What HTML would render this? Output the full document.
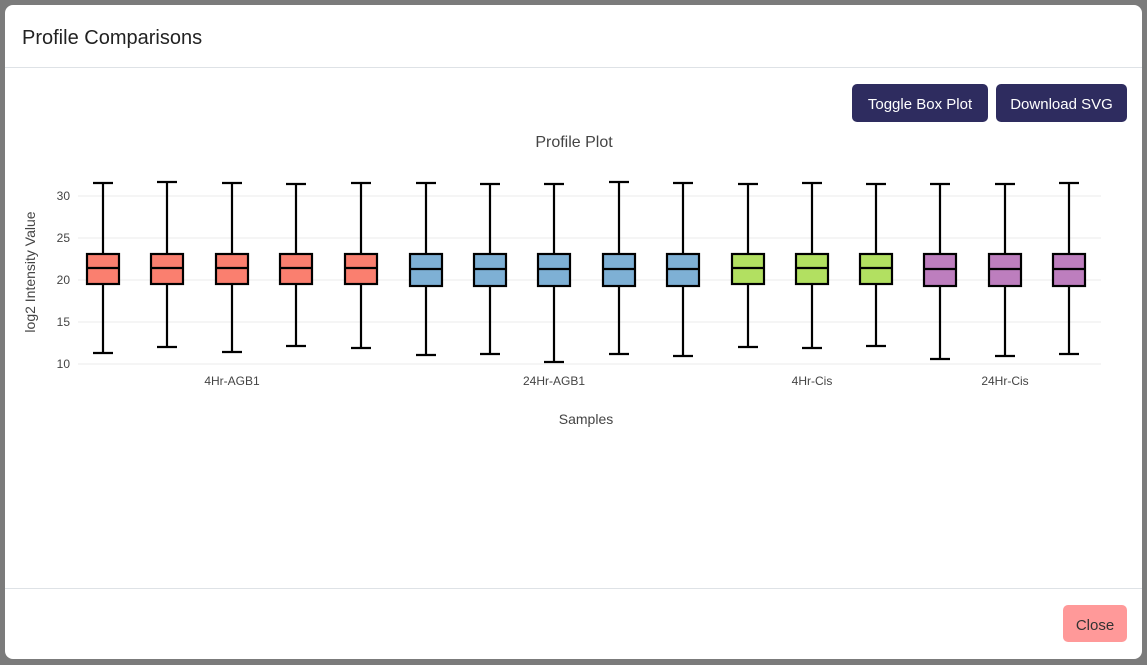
<!DOCTYPE html>
<html><head><meta charset="utf-8"><style>
body{margin:0;width:1147px;height:665px;background:#7b7b7b;font-family:"Liberation Sans",sans-serif;overflow:hidden;position:relative}
.modal{position:absolute;left:5px;top:5px;width:1137px;height:654px;background:#fff;border-radius:8px}
.title{position:absolute;left:17px;top:22px;font-size:20px;color:#222}
.hl{position:absolute;left:0;right:0;height:1px;background:#dee2e6}
.btn{position:absolute;top:79px;height:38px;background:#2e2c5f;color:#fff;border-radius:5px;font-size:15px;line-height:42px;text-align:center}
.close{position:absolute;left:1058px;top:600px;width:64px;height:37px;background:#f99;border-radius:5px;color:#333;font-size:15px;line-height:41px;text-align:center}
svg{position:absolute;left:0;top:0}
</style></head><body>
<div class="modal">
<div class="title">Profile Comparisons</div>
<div class="hl" style="top:62px"></div>
<div class="btn" style="left:847px;width:136px">Toggle Box Plot</div>
<div class="btn" style="left:991px;width:131px">Download SVG</div>
<div class="hl" style="top:583px"></div>
<div class="close">Close</div>
</div>
<svg width="1147" height="665" font-family="Liberation Sans, sans-serif">
<g stroke="#ebebeb" stroke-width="1">
<line x1="78" x2="1101" y1="196" y2="196"/><line x1="78" x2="1101" y1="238" y2="238"/><line x1="78" x2="1101" y1="280" y2="280"/><line x1="78" x2="1101" y1="322" y2="322"/><line x1="78" x2="1101" y1="364" y2="364"/>
</g>
<g font-size="12" fill="#444" text-anchor="end">
<text x="70" y="200">30</text><text x="70" y="242">25</text><text x="70" y="284">20</text><text x="70" y="326">15</text><text x="70" y="368">10</text>
</g>
<text x="574" y="147" font-size="16" fill="#444" text-anchor="middle">Profile Plot</text>
<text x="586" y="424" font-size="14" fill="#444" text-anchor="middle">Samples</text>
<text transform="translate(35,272) rotate(-90)" font-size="14" fill="#444" text-anchor="middle">log2 Intensity Value</text>
<g font-size="12" fill="#444" text-anchor="middle">
<text x="232" y="385">4Hr-AGB1</text><text x="554" y="385">24Hr-AGB1</text><text x="812" y="385">4Hr-Cis</text><text x="1005" y="385">24Hr-Cis</text>
</g>
<g stroke="#000" stroke-width="2.2">
<line x1="103" x2="103" y1="183" y2="353"/><line x1="93" x2="113" y1="183" y2="183"/><line x1="93" x2="113" y1="353" y2="353"/>
<line x1="167" x2="167" y1="182" y2="347"/><line x1="157" x2="177" y1="182" y2="182"/><line x1="157" x2="177" y1="347" y2="347"/>
<line x1="232" x2="232" y1="183" y2="352"/><line x1="222" x2="242" y1="183" y2="183"/><line x1="222" x2="242" y1="352" y2="352"/>
<line x1="296" x2="296" y1="184" y2="346"/><line x1="286" x2="306" y1="184" y2="184"/><line x1="286" x2="306" y1="346" y2="346"/>
<line x1="361" x2="361" y1="183" y2="348"/><line x1="351" x2="371" y1="183" y2="183"/><line x1="351" x2="371" y1="348" y2="348"/>
<line x1="426" x2="426" y1="183" y2="355"/><line x1="416" x2="436" y1="183" y2="183"/><line x1="416" x2="436" y1="355" y2="355"/>
<line x1="490" x2="490" y1="184" y2="354"/><line x1="480" x2="500" y1="184" y2="184"/><line x1="480" x2="500" y1="354" y2="354"/>
<line x1="554" x2="554" y1="184" y2="362"/><line x1="544" x2="564" y1="184" y2="184"/><line x1="544" x2="564" y1="362" y2="362"/>
<line x1="619" x2="619" y1="182" y2="354"/><line x1="609" x2="629" y1="182" y2="182"/><line x1="609" x2="629" y1="354" y2="354"/>
<line x1="683" x2="683" y1="183" y2="356"/><line x1="673" x2="693" y1="183" y2="183"/><line x1="673" x2="693" y1="356" y2="356"/>
<line x1="748" x2="748" y1="184" y2="347"/><line x1="738" x2="758" y1="184" y2="184"/><line x1="738" x2="758" y1="347" y2="347"/>
<line x1="812" x2="812" y1="183" y2="348"/><line x1="802" x2="822" y1="183" y2="183"/><line x1="802" x2="822" y1="348" y2="348"/>
<line x1="876" x2="876" y1="184" y2="346"/><line x1="866" x2="886" y1="184" y2="184"/><line x1="866" x2="886" y1="346" y2="346"/>
<line x1="940" x2="940" y1="184" y2="359"/><line x1="930" x2="950" y1="184" y2="184"/><line x1="930" x2="950" y1="359" y2="359"/>
<line x1="1005" x2="1005" y1="184" y2="356"/><line x1="995" x2="1015" y1="184" y2="184"/><line x1="995" x2="1015" y1="356" y2="356"/>
<line x1="1069" x2="1069" y1="183" y2="354"/><line x1="1059" x2="1079" y1="183" y2="183"/><line x1="1059" x2="1079" y1="354" y2="354"/>
</g>
<g stroke="#000" stroke-width="2.2">
<g fill="#fa7f6f">
<rect x="87" y="254" width="32" height="30"/><rect x="151" y="254" width="32" height="30"/><rect x="216" y="254" width="32" height="30"/><rect x="280" y="254" width="32" height="30"/><rect x="345" y="254" width="32" height="30"/>
</g>
<g fill="#7eb0d5">
<rect x="410" y="254" width="32" height="32"/><rect x="474" y="254" width="32" height="32"/><rect x="538" y="254" width="32" height="32"/><rect x="603" y="254" width="32" height="32"/><rect x="667" y="254" width="32" height="32"/>
</g>
<g fill="#b2e061">
<rect x="732" y="254" width="32" height="30"/><rect x="796" y="254" width="32" height="30"/><rect x="860" y="254" width="32" height="30"/>
</g>
<g fill="#bd7ebe">
<rect x="924" y="254" width="32" height="32"/><rect x="989" y="254" width="32" height="32"/><rect x="1053" y="254" width="32" height="32"/>
</g>
<g>
<line x1="87" x2="119" y1="268" y2="268"/><line x1="151" x2="183" y1="268" y2="268"/><line x1="216" x2="248" y1="268" y2="268"/><line x1="280" x2="312" y1="268" y2="268"/><line x1="345" x2="377" y1="268" y2="268"/>
<line x1="410" x2="442" y1="269" y2="269"/><line x1="474" x2="506" y1="269" y2="269"/><line x1="538" x2="570" y1="269" y2="269"/><line x1="603" x2="635" y1="269" y2="269"/><line x1="667" x2="699" y1="269" y2="269"/>
<line x1="732" x2="764" y1="268" y2="268"/><line x1="796" x2="828" y1="268" y2="268"/><line x1="860" x2="892" y1="268" y2="268"/>
<line x1="924" x2="956" y1="269" y2="269"/><line x1="989" x2="1021" y1="269" y2="269"/><line x1="1053" x2="1085" y1="269" y2="269"/>
</g>
</g>
</svg>
</body></html>
